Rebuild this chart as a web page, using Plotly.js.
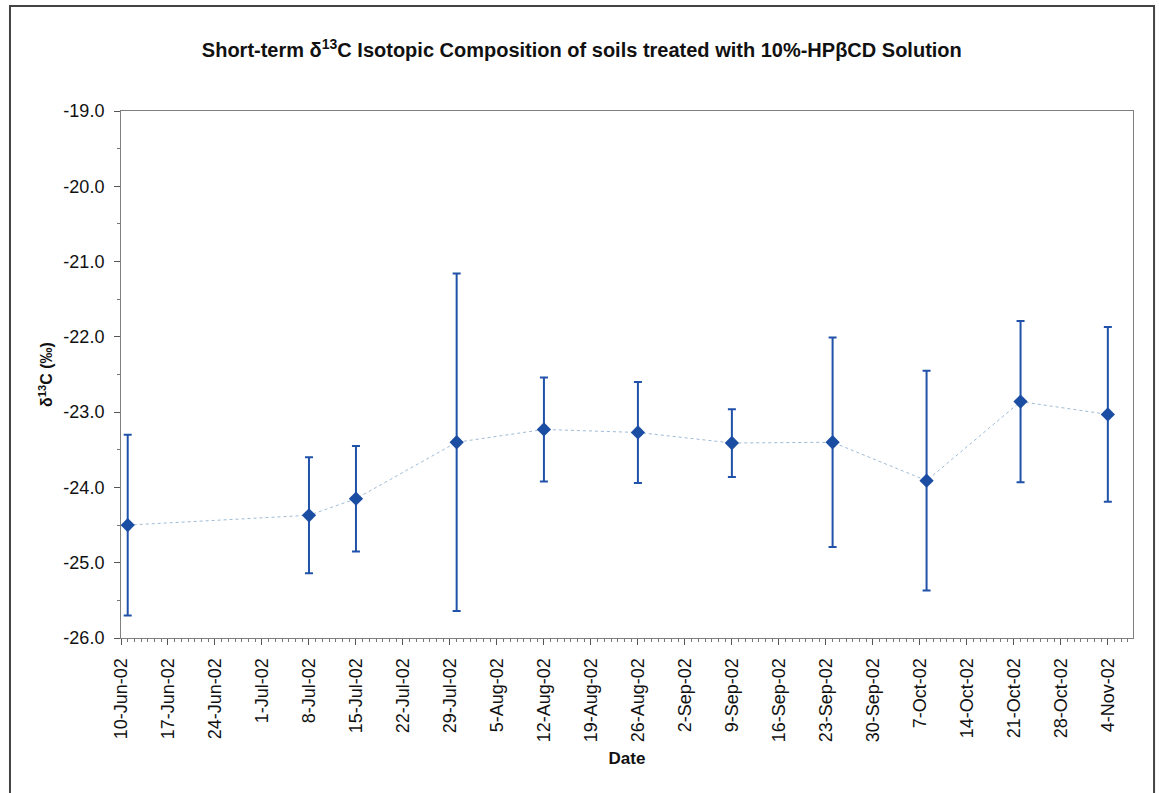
<!DOCTYPE html>
<html>
<head>
<meta charset="utf-8">
<script src="https://cdn.plot.ly/plotly-3.0.1.min.js"></script>
<style>
  html, body { margin: 0; padding: 0; background: #ffffff; }
  #chart { width: 1159px; height: 793px; }
</style>
</head>
<body>
<div id="chart"></div>
<script>
// Sampling dates and mean δ13C values (‰) with their ± error
const sampleDates = ['2002-06-11', '2002-07-08', '2002-07-15', '2002-07-30', '2002-08-12',
                     '2002-08-26', '2002-09-09', '2002-09-24', '2002-10-08', '2002-10-22', '2002-11-04'];
const delta13C = [-24.50, -24.37, -24.15, -23.40, -23.23, -23.27, -23.41, -23.40, -23.91, -22.86, -23.03];
const delta13CErr = [1.20, 0.77, 0.70, 2.24, 0.69, 0.67, 0.45, 1.39, 1.46, 1.07, 1.16];

const yTickVals = [-26, -25, -24, -23, -22, -21, -20, -19];
const yTickText = yTickVals.map(v => v.toFixed(1));   // plain hyphen-minus, one decimal

const font = 'Liberation Sans, Arial, sans-serif';

const trace = {
  type: 'scatter',
  mode: 'lines+markers',
  x: sampleDates,
  y: delta13C,
  line: { color: '#9dbbd8', width: 1, dash: 'dot' },
  marker: { symbol: 'diamond', size: 11, color: '#1b4ea3', line: { width: 0 } },
  error_y: {
    type: 'data',
    array: delta13CErr,
    symmetric: true,
    visible: true,
    color: '#1f52a8',
    thickness: 2,
    width: 4
  },
  hoverinfo: 'x+y'
};

const layout = {
  width: 1159,
  height: 793,
  paper_bgcolor: '#ffffff',
  plot_bgcolor: '#ffffff',
  margin: { l: 121, r: 26, t: 111, b: 155 },
  showlegend: false,
  title: {
    text: '<b>Short-term δ<sup>13</sup>C Isotopic Composition of soils treated with 10%-HPβCD Solution</b>',
    font: { family: font, size: 20, color: '#111111' },
    x: 0.502, xref: 'container', xanchor: 'center',
    y: 0.937, yref: 'container', yanchor: 'middle'
  },
  xaxis: {
    type: 'date',
    range: ['2002-06-10', '2002-11-07 18:00'],
    tick0: '2002-06-10',
    dtick: 7 * 86400000,
    tickformat: '%-d-%b-%y',
    tickangle: -90,
    ticks: 'outside',
    ticklen: 6,
    tickcolor: '#555555',
    tickfont: { family: font, size: 18, color: '#111111' },
    ticklabelstandoff: 6,
    minor: { dtick: 86400000, ticks: 'outside', ticklen: 3, tickcolor: '#777777' },
    showline: true, linecolor: '#7f7f7f', linewidth: 1, mirror: true,
    showgrid: false, zeroline: false,
    title: { text: '<b>Date</b>', font: { family: font, size: 17, color: '#111111' }, standoff: 10 }
  },
  yaxis: {
    range: [-26, -19],
    tickmode: 'array',
    tickvals: yTickVals,
    ticktext: yTickText,
    ticks: 'outside',
    ticklen: 6,
    tickcolor: '#555555',
    tickfont: { family: font, size: 18, color: '#111111' },
    ticklabelstandoff: 6,
    minor: { dtick: 0.5, ticks: 'outside', ticklen: 3, tickcolor: '#777777' },
    showline: true, linecolor: '#7f7f7f', linewidth: 1, mirror: true,
    showgrid: false, zeroline: false,
    title: { text: '<b>δ<sup>13</sup>C (‰)</b>', font: { family: font, size: 16, color: '#111111' }, standoff: 6 }
  },
  shapes: [{
    // outer frame of the chart area
    type: 'rect', xref: 'paper', yref: 'paper',
    x0: -0.1097, x1: 1.0208, y0: -0.32, y1: 1.1992,
    line: { color: '#444444', width: 2 }, fillcolor: 'rgba(0,0,0,0)', layer: 'below'
  }]
};

Plotly.newPlot('chart', [trace], layout, { displayModeBar: false, staticPlot: true });
</script>
</body>
</html>
